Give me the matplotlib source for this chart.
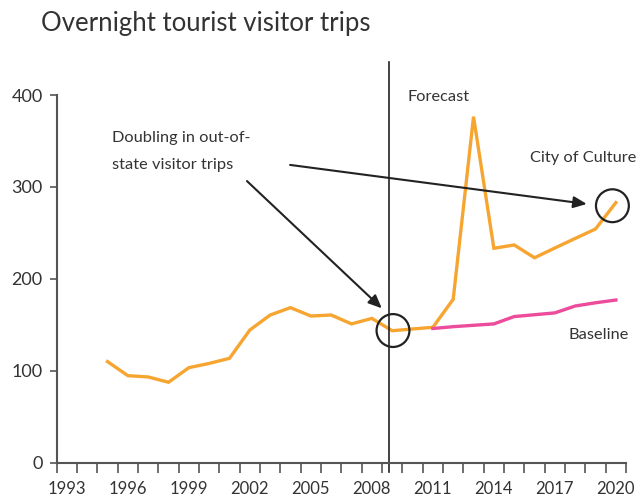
import matplotlib.pyplot as plt
import numpy as np

plt.rcParams['font.family'] = ['Lato', 'DejaVu Sans']

years = list(range(1993, 2021))
label_years = [1993, 1996, 1999, 2002, 2005, 2008, 2011, 2014, 2017, 2020]

# historic + forecast (orange)
forecast_years = list(range(1995, 2021))
forecast_vals = [110, 94.7, 93.3, 87.5, 103.4, 108, 113.6, 144.4, 160.7, 168.7,
                 159.6, 160.7, 151, 157, 143.6, 145.5, 147.3, 177.8, 376.5, 233.3,
                 236.9, 223, 233.6, 244, 254.3, 283]

# baseline (pink)
baseline_years = list(range(2011, 2021))
baseline_vals = [146, 148, 149.5, 151, 159, 161, 163, 170.5, 174, 177]

orange = '#F7A531'
pink = '#EC4C9B'
txt = '#333333'
axis_col = '#555555'

fig = plt.figure(figsize=(6.39, 4.98), dpi=100)
ax = fig.add_axes([0.0887, 0.0709, 0.891, 0.812])

ax.plot(forecast_years, forecast_vals, color=orange, lw=2.4, solid_joinstyle='miter')
ax.plot(baseline_years, baseline_vals, color=pink, lw=2.4)

ax.set_xlim(1992.5, 2020.5)
ax.set_ylim(0, 440)

# tick marks at band edges, labels at band centres
ax.set_xticks(np.arange(1992.5, 2021, 1))
ax.set_xticklabels([])
ax.tick_params(axis='x', which='major', length=7, width=1.2, color=axis_col, direction='out')
ax.set_xticks(label_years, minor=True)
ax.set_xticklabels([str(y) for y in label_years], minor=True)
ax.tick_params(axis='x', which='minor', length=0, pad=13, labelsize=12, labelcolor=txt)

ax.set_yticks([0, 100, 200, 300, 400])
ax.tick_params(axis='y', length=5, width=1.2, color=axis_col, labelsize=13,
               labelcolor=txt, pad=5)

for s in ['top', 'right']:
    ax.spines[s].set_visible(False)
for s in ['left', 'bottom']:
    ax.spines[s].set_color(axis_col)
    ax.spines[s].set_linewidth(1.5)
ax.spines['left'].set_bounds(0, 400)

# forecast divider
ax.plot([2008.83, 2008.83], [-10, 436], color='#222222', lw=1.2, clip_on=False)

# circles
ax.scatter([2009.04, 2019.83], [143.8, 279.6], s=560, facecolors='none',
           edgecolors='#222222', linewidths=1.6, zorder=5, clip_on=False)

# arrows
arrow = dict(arrowstyle='-|>,head_length=0.8,head_width=0.35', color='#222222', lw=1.5,
             shrinkA=0, shrinkB=0)
ax.annotate('', xy=(2008.49, 168), xytext=(2001.86, 306.4), arrowprops=arrow)
ax.annotate('', xy=(2018.57, 281.5), xytext=(2003.98, 324), arrowprops=arrow)

fs = 11.8
ax.text(2011.3, 398, 'Forecast', ha='center', va='center', fontsize=fs, color=txt)
ax.text(2021.0, 331.6, 'City of Culture', ha='right', va='center', fontsize=fs, color=txt,
        clip_on=False)
ax.text(2017.65, 138.4, 'Baseline', ha='left', va='center', fontsize=fs, color=txt)
ax.text(1995.2, 353, 'Doubling in out-of-', ha='left', va='center', fontsize=fs, color=txt)
ax.text(1995.2, 324, 'state visitor trips', ha='left', va='center', fontsize=fs, color=txt)

fig.text(41 / 639, 1 - 24 / 498, 'Overnight tourist visitor trips', ha='left', va='center',
         fontsize=18.5, color=txt)

fig.savefig('out.png', dpi=100)
